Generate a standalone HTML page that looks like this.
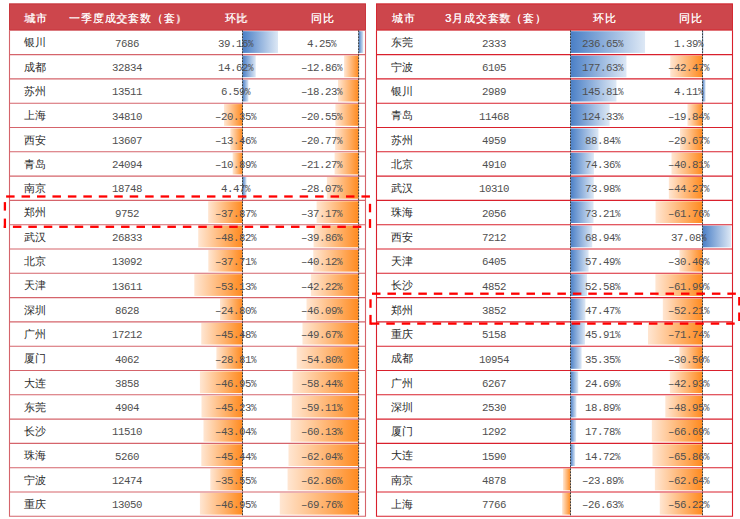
<!DOCTYPE html>
<html><head><meta charset="utf-8"><style>
html,body{margin:0;padding:0;background:#fff;width:740px;height:519px;overflow:hidden;position:relative}
body{font-family:"Liberation Sans",sans-serif}
svg{position:absolute;left:0;top:0}
.h{position:absolute;color:#fff;font-size:11.2px;letter-spacing:0.8px;text-indent:0.8px;line-height:16px;white-space:nowrap;text-shadow:0.3px 0 0 rgba(255,255,255,0.8)}
.c{width:160px;text-align:center}
.c2{width:100px;text-align:center}
.city{position:absolute;color:#2a2a2a;font-size:11px;line-height:16px;white-space:nowrap}
.num{position:absolute;height:16px;white-space:nowrap;color:#505050;font-family:"Liberation Mono",monospace;font-size:11.7px;line-height:16px}
.num span{display:inline-block;width:6px;overflow:visible}
.num span{transform:scaleX(0.92);transform-origin:0 0}
.num span.pc{transform:scaleX(0.78)}
</style></head><body>
<svg width="740" height="519">
<defs>
<linearGradient id="gb" x1="0" x2="1" y1="0" y2="0"><stop offset="0" stop-color="#4A7FC6"/><stop offset="1" stop-color="#DDE8F5"/></linearGradient>
<linearGradient id="go" x1="0" x2="1" y1="0" y2="0"><stop offset="0" stop-color="#FFE6D2"/><stop offset="1" stop-color="#FF8A1E"/></linearGradient>
</defs>
<rect x="9.05" y="3.5" width="356.9" height="26.95" fill="#CD464C"/>
<rect x="9.5" y="4.0" width="356.0" height="25.95" fill="none" stroke="#C8353C" stroke-width="0.9"/>
<rect x="242.50" y="31.20" width="35.52" height="21.70" fill="url(#gb)"/>
<rect x="358.60" y="31.20" width="4.80" height="21.70" fill="url(#gb)"/>
<rect x="242.50" y="55.50" width="13.26" height="21.70" fill="url(#gb)"/>
<rect x="344.07" y="55.50" width="14.53" height="21.70" fill="url(#go)"/>
<rect x="242.50" y="79.80" width="5.98" height="21.70" fill="url(#gb)"/>
<rect x="338.00" y="79.80" width="20.60" height="21.70" fill="url(#go)"/>
<rect x="224.04" y="104.10" width="18.46" height="21.70" fill="url(#go)"/>
<rect x="335.38" y="104.10" width="23.22" height="21.70" fill="url(#go)"/>
<rect x="230.29" y="128.40" width="12.21" height="21.70" fill="url(#go)"/>
<rect x="335.13" y="128.40" width="23.47" height="21.70" fill="url(#go)"/>
<rect x="232.62" y="152.70" width="9.88" height="21.70" fill="url(#go)"/>
<rect x="334.56" y="152.70" width="24.04" height="21.70" fill="url(#go)"/>
<rect x="242.50" y="177.00" width="4.05" height="21.70" fill="url(#gb)"/>
<rect x="326.88" y="177.00" width="31.72" height="21.70" fill="url(#go)"/>
<rect x="208.15" y="201.30" width="34.35" height="21.70" fill="url(#go)"/>
<rect x="316.60" y="201.30" width="42.00" height="21.70" fill="url(#go)"/>
<rect x="198.22" y="225.60" width="44.28" height="21.70" fill="url(#go)"/>
<rect x="313.56" y="225.60" width="45.04" height="21.70" fill="url(#go)"/>
<rect x="208.30" y="249.90" width="34.20" height="21.70" fill="url(#go)"/>
<rect x="313.26" y="249.90" width="45.34" height="21.70" fill="url(#go)"/>
<rect x="194.31" y="274.20" width="48.19" height="21.70" fill="url(#go)"/>
<rect x="310.89" y="274.20" width="47.71" height="21.70" fill="url(#go)"/>
<rect x="220.01" y="298.50" width="22.49" height="21.70" fill="url(#go)"/>
<rect x="306.52" y="298.50" width="52.08" height="21.70" fill="url(#go)"/>
<rect x="201.25" y="322.80" width="41.25" height="21.70" fill="url(#go)"/>
<rect x="302.47" y="322.80" width="56.13" height="21.70" fill="url(#go)"/>
<rect x="216.37" y="347.10" width="26.13" height="21.70" fill="url(#go)"/>
<rect x="296.68" y="347.10" width="61.92" height="21.70" fill="url(#go)"/>
<rect x="199.92" y="371.40" width="42.58" height="21.70" fill="url(#go)"/>
<rect x="292.56" y="371.40" width="66.04" height="21.70" fill="url(#go)"/>
<rect x="201.48" y="395.70" width="41.02" height="21.70" fill="url(#go)"/>
<rect x="291.81" y="395.70" width="66.79" height="21.70" fill="url(#go)"/>
<rect x="203.46" y="420.00" width="39.04" height="21.70" fill="url(#go)"/>
<rect x="290.65" y="420.00" width="67.95" height="21.70" fill="url(#go)"/>
<rect x="201.29" y="444.30" width="41.21" height="21.70" fill="url(#go)"/>
<rect x="288.49" y="444.30" width="70.11" height="21.70" fill="url(#go)"/>
<rect x="210.26" y="468.60" width="32.24" height="21.70" fill="url(#go)"/>
<rect x="287.57" y="468.60" width="71.03" height="21.70" fill="url(#go)"/>
<rect x="199.92" y="492.90" width="42.58" height="21.70" fill="url(#go)"/>
<rect x="279.77" y="492.90" width="78.83" height="21.70" fill="url(#go)"/>
<line x1="9.5" y1="54.60" x2="365.5" y2="54.60" stroke="#D5646B" stroke-width="1.1"/>
<line x1="9.5" y1="78.90" x2="365.5" y2="78.90" stroke="#D5646B" stroke-width="1.1"/>
<line x1="9.5" y1="103.20" x2="365.5" y2="103.20" stroke="#D5646B" stroke-width="1.1"/>
<line x1="9.5" y1="127.50" x2="365.5" y2="127.50" stroke="#D5646B" stroke-width="1.1"/>
<line x1="9.5" y1="151.80" x2="365.5" y2="151.80" stroke="#D5646B" stroke-width="1.1"/>
<line x1="9.5" y1="176.10" x2="365.5" y2="176.10" stroke="#D5646B" stroke-width="1.1"/>
<line x1="9.5" y1="200.40" x2="365.5" y2="200.40" stroke="#D5646B" stroke-width="1.1"/>
<line x1="9.5" y1="224.70" x2="365.5" y2="224.70" stroke="#D5646B" stroke-width="1.1"/>
<line x1="9.5" y1="249.00" x2="365.5" y2="249.00" stroke="#D5646B" stroke-width="1.1"/>
<line x1="9.5" y1="273.30" x2="365.5" y2="273.30" stroke="#D5646B" stroke-width="1.1"/>
<line x1="9.5" y1="297.60" x2="365.5" y2="297.60" stroke="#D5646B" stroke-width="1.1"/>
<line x1="9.5" y1="321.90" x2="365.5" y2="321.90" stroke="#D5646B" stroke-width="1.1"/>
<line x1="9.5" y1="346.20" x2="365.5" y2="346.20" stroke="#D5646B" stroke-width="1.1"/>
<line x1="9.5" y1="370.50" x2="365.5" y2="370.50" stroke="#D5646B" stroke-width="1.1"/>
<line x1="9.5" y1="394.80" x2="365.5" y2="394.80" stroke="#D5646B" stroke-width="1.1"/>
<line x1="9.5" y1="419.10" x2="365.5" y2="419.10" stroke="#D5646B" stroke-width="1.1"/>
<line x1="9.5" y1="443.40" x2="365.5" y2="443.40" stroke="#D5646B" stroke-width="1.1"/>
<line x1="9.5" y1="467.70" x2="365.5" y2="467.70" stroke="#D5646B" stroke-width="1.1"/>
<line x1="9.5" y1="492.00" x2="365.5" y2="492.00" stroke="#D5646B" stroke-width="1.1"/>
<polyline points="9.5,30.3 9.5,516.30 365.5,516.30 365.5,30.3" fill="none" stroke="#D5646B" stroke-width="1.1"/>
<line x1="242.50" y1="30.3" x2="242.50" y2="516.30" stroke="#333" stroke-width="0.95" stroke-dasharray="2 1"/>
<line x1="358.60" y1="30.3" x2="358.60" y2="516.30" stroke="#333" stroke-width="0.95" stroke-dasharray="2 1"/>
<rect x="376.05" y="3.5" width="356.9" height="26.95" fill="#CD464C"/>
<rect x="376.5" y="4.0" width="356.0" height="25.95" fill="none" stroke="#D6262F" stroke-width="0.9"/>
<rect x="570.50" y="31.20" width="74.54" height="21.70" fill="url(#gb)"/>
<rect x="702.50" y="31.20" width="1.07" height="21.70" fill="url(#gb)"/>
<rect x="570.50" y="55.50" width="55.95" height="21.70" fill="url(#gb)"/>
<rect x="670.22" y="55.50" width="32.28" height="21.70" fill="url(#go)"/>
<rect x="570.50" y="79.80" width="45.93" height="21.70" fill="url(#gb)"/>
<rect x="702.50" y="79.80" width="3.16" height="21.70" fill="url(#gb)"/>
<rect x="570.50" y="104.10" width="39.16" height="21.70" fill="url(#gb)"/>
<rect x="687.42" y="104.10" width="15.08" height="21.70" fill="url(#go)"/>
<rect x="570.50" y="128.40" width="27.98" height="21.70" fill="url(#gb)"/>
<rect x="679.95" y="128.40" width="22.55" height="21.70" fill="url(#go)"/>
<rect x="570.50" y="152.70" width="23.42" height="21.70" fill="url(#gb)"/>
<rect x="671.48" y="152.70" width="31.02" height="21.70" fill="url(#go)"/>
<rect x="570.50" y="177.00" width="23.30" height="21.70" fill="url(#gb)"/>
<rect x="668.85" y="177.00" width="33.65" height="21.70" fill="url(#go)"/>
<rect x="570.50" y="201.30" width="23.06" height="21.70" fill="url(#gb)"/>
<rect x="655.56" y="201.30" width="46.94" height="21.70" fill="url(#go)"/>
<rect x="570.50" y="225.60" width="21.72" height="21.70" fill="url(#gb)"/>
<rect x="702.50" y="225.60" width="28.55" height="21.70" fill="url(#gb)"/>
<rect x="570.50" y="249.90" width="18.11" height="21.70" fill="url(#gb)"/>
<rect x="679.40" y="249.90" width="23.10" height="21.70" fill="url(#go)"/>
<rect x="570.50" y="274.20" width="16.56" height="21.70" fill="url(#gb)"/>
<rect x="655.39" y="274.20" width="47.11" height="21.70" fill="url(#go)"/>
<rect x="570.50" y="298.50" width="14.95" height="21.70" fill="url(#gb)"/>
<rect x="662.82" y="298.50" width="39.68" height="21.70" fill="url(#go)"/>
<rect x="570.50" y="322.80" width="14.46" height="21.70" fill="url(#gb)"/>
<rect x="647.98" y="322.80" width="54.52" height="21.70" fill="url(#go)"/>
<rect x="570.50" y="347.10" width="11.14" height="21.70" fill="url(#gb)"/>
<rect x="679.32" y="347.10" width="23.18" height="21.70" fill="url(#go)"/>
<rect x="570.50" y="371.40" width="7.78" height="21.70" fill="url(#gb)"/>
<rect x="669.87" y="371.40" width="32.63" height="21.70" fill="url(#go)"/>
<rect x="570.50" y="395.70" width="5.95" height="21.70" fill="url(#gb)"/>
<rect x="665.30" y="395.70" width="37.20" height="21.70" fill="url(#go)"/>
<rect x="570.50" y="420.00" width="5.60" height="21.70" fill="url(#gb)"/>
<rect x="651.82" y="420.00" width="50.68" height="21.70" fill="url(#go)"/>
<rect x="570.50" y="444.30" width="4.64" height="21.70" fill="url(#gb)"/>
<rect x="652.45" y="444.30" width="50.05" height="21.70" fill="url(#go)"/>
<rect x="562.97" y="468.60" width="7.53" height="21.70" fill="url(#go)"/>
<rect x="654.89" y="468.60" width="47.61" height="21.70" fill="url(#go)"/>
<rect x="562.11" y="492.90" width="8.39" height="21.70" fill="url(#go)"/>
<rect x="659.77" y="492.90" width="42.73" height="21.70" fill="url(#go)"/>
<line x1="376.5" y1="54.60" x2="732.5" y2="54.60" stroke="#D9202C" stroke-width="1.1"/>
<line x1="376.5" y1="78.90" x2="732.5" y2="78.90" stroke="#D9202C" stroke-width="1.1"/>
<line x1="376.5" y1="103.20" x2="732.5" y2="103.20" stroke="#D9202C" stroke-width="1.1"/>
<line x1="376.5" y1="127.50" x2="732.5" y2="127.50" stroke="#D9202C" stroke-width="1.1"/>
<line x1="376.5" y1="151.80" x2="732.5" y2="151.80" stroke="#D9202C" stroke-width="1.1"/>
<line x1="376.5" y1="176.10" x2="732.5" y2="176.10" stroke="#D9202C" stroke-width="1.1"/>
<line x1="376.5" y1="200.40" x2="732.5" y2="200.40" stroke="#D9202C" stroke-width="1.1"/>
<line x1="376.5" y1="224.70" x2="732.5" y2="224.70" stroke="#D9202C" stroke-width="1.1"/>
<line x1="376.5" y1="249.00" x2="732.5" y2="249.00" stroke="#D9202C" stroke-width="1.1"/>
<line x1="376.5" y1="273.30" x2="732.5" y2="273.30" stroke="#D9202C" stroke-width="1.1"/>
<line x1="376.5" y1="297.60" x2="732.5" y2="297.60" stroke="#D9202C" stroke-width="1.1"/>
<line x1="376.5" y1="321.90" x2="732.5" y2="321.90" stroke="#D9202C" stroke-width="1.1"/>
<line x1="376.5" y1="346.20" x2="732.5" y2="346.20" stroke="#D9202C" stroke-width="1.1"/>
<line x1="376.5" y1="370.50" x2="732.5" y2="370.50" stroke="#D9202C" stroke-width="1.1"/>
<line x1="376.5" y1="394.80" x2="732.5" y2="394.80" stroke="#D9202C" stroke-width="1.1"/>
<line x1="376.5" y1="419.10" x2="732.5" y2="419.10" stroke="#D9202C" stroke-width="1.1"/>
<line x1="376.5" y1="443.40" x2="732.5" y2="443.40" stroke="#D9202C" stroke-width="1.1"/>
<line x1="376.5" y1="467.70" x2="732.5" y2="467.70" stroke="#D9202C" stroke-width="1.1"/>
<line x1="376.5" y1="492.00" x2="732.5" y2="492.00" stroke="#D9202C" stroke-width="1.1"/>
<polyline points="376.5,30.3 376.5,516.30 732.5,516.30 732.5,30.3" fill="none" stroke="#D9202C" stroke-width="1.1"/>
<line x1="570.50" y1="30.3" x2="570.50" y2="516.30" stroke="#333" stroke-width="0.95" stroke-dasharray="2 1"/>
<line x1="702.50" y1="30.3" x2="702.50" y2="516.30" stroke="#333" stroke-width="0.95" stroke-dasharray="2 1"/>
</svg>
<div class="h" style="left:23.5px;top:9.80px">城市</div>
<div class="h c" style="left:47.8px;top:9.80px">一季度成交套数（套）</div>
<div class="h c2" style="left:186.0px;top:9.80px">环比</div>
<div class="h c2" style="left:272.4px;top:9.80px">同比</div>
<div class="city" style="left:23.5px;top:34.35px">银川</div>
<div class="num" style="left:114.80px;top:35.65px;width:24px"><span>7</span><span>6</span><span>8</span><span>6</span></div>
<div class="num" style="left:218.00px;top:35.65px;width:36px"><span>3</span><span>9</span><span>.</span><span>1</span><span>6</span><span class="pc">%</span></div>
<div class="num" style="left:307.40px;top:35.65px;width:30px"><span>4</span><span>.</span><span>2</span><span>5</span><span class="pc">%</span></div>
<div class="city" style="left:23.5px;top:58.65px">成都</div>
<div class="num" style="left:111.80px;top:59.95px;width:30px"><span>3</span><span>2</span><span>8</span><span>3</span><span>4</span></div>
<div class="num" style="left:218.00px;top:59.95px;width:36px"><span>1</span><span>4</span><span>.</span><span>6</span><span>2</span><span class="pc">%</span></div>
<div class="num" style="left:301.40px;top:59.95px;width:42px"><span>–</span><span>1</span><span>2</span><span>.</span><span>8</span><span>6</span><span class="pc">%</span></div>
<div class="city" style="left:23.5px;top:82.95px">苏州</div>
<div class="num" style="left:111.80px;top:84.25px;width:30px"><span>1</span><span>3</span><span>5</span><span>1</span><span>1</span></div>
<div class="num" style="left:221.00px;top:84.25px;width:30px"><span>6</span><span>.</span><span>5</span><span>9</span><span class="pc">%</span></div>
<div class="num" style="left:301.40px;top:84.25px;width:42px"><span>–</span><span>1</span><span>8</span><span>.</span><span>2</span><span>3</span><span class="pc">%</span></div>
<div class="city" style="left:23.5px;top:107.25px">上海</div>
<div class="num" style="left:111.80px;top:108.55px;width:30px"><span>3</span><span>4</span><span>8</span><span>1</span><span>0</span></div>
<div class="num" style="left:215.00px;top:108.55px;width:42px"><span>–</span><span>2</span><span>0</span><span>.</span><span>3</span><span>5</span><span class="pc">%</span></div>
<div class="num" style="left:301.40px;top:108.55px;width:42px"><span>–</span><span>2</span><span>0</span><span>.</span><span>5</span><span>5</span><span class="pc">%</span></div>
<div class="city" style="left:23.5px;top:131.55px">西安</div>
<div class="num" style="left:111.80px;top:132.85px;width:30px"><span>1</span><span>3</span><span>6</span><span>0</span><span>7</span></div>
<div class="num" style="left:215.00px;top:132.85px;width:42px"><span>–</span><span>1</span><span>3</span><span>.</span><span>4</span><span>6</span><span class="pc">%</span></div>
<div class="num" style="left:301.40px;top:132.85px;width:42px"><span>–</span><span>2</span><span>0</span><span>.</span><span>7</span><span>7</span><span class="pc">%</span></div>
<div class="city" style="left:23.5px;top:155.85px">青岛</div>
<div class="num" style="left:111.80px;top:157.15px;width:30px"><span>2</span><span>4</span><span>0</span><span>9</span><span>4</span></div>
<div class="num" style="left:215.00px;top:157.15px;width:42px"><span>–</span><span>1</span><span>0</span><span>.</span><span>8</span><span>9</span><span class="pc">%</span></div>
<div class="num" style="left:301.40px;top:157.15px;width:42px"><span>–</span><span>2</span><span>1</span><span>.</span><span>2</span><span>7</span><span class="pc">%</span></div>
<div class="city" style="left:23.5px;top:180.15px">南京</div>
<div class="num" style="left:111.80px;top:181.45px;width:30px"><span>1</span><span>8</span><span>7</span><span>4</span><span>8</span></div>
<div class="num" style="left:221.00px;top:181.45px;width:30px"><span>4</span><span>.</span><span>4</span><span>7</span><span class="pc">%</span></div>
<div class="num" style="left:301.40px;top:181.45px;width:42px"><span>–</span><span>2</span><span>8</span><span>.</span><span>0</span><span>7</span><span class="pc">%</span></div>
<div class="city" style="left:23.5px;top:204.45px">郑州</div>
<div class="num" style="left:114.80px;top:205.75px;width:24px"><span>9</span><span>7</span><span>5</span><span>2</span></div>
<div class="num" style="left:215.00px;top:205.75px;width:42px"><span>–</span><span>3</span><span>7</span><span>.</span><span>8</span><span>7</span><span class="pc">%</span></div>
<div class="num" style="left:301.40px;top:205.75px;width:42px"><span>–</span><span>3</span><span>7</span><span>.</span><span>1</span><span>7</span><span class="pc">%</span></div>
<div class="city" style="left:23.5px;top:228.75px">武汉</div>
<div class="num" style="left:111.80px;top:230.05px;width:30px"><span>2</span><span>6</span><span>8</span><span>3</span><span>3</span></div>
<div class="num" style="left:215.00px;top:230.05px;width:42px"><span>–</span><span>4</span><span>8</span><span>.</span><span>8</span><span>2</span><span class="pc">%</span></div>
<div class="num" style="left:301.40px;top:230.05px;width:42px"><span>–</span><span>3</span><span>9</span><span>.</span><span>8</span><span>6</span><span class="pc">%</span></div>
<div class="city" style="left:23.5px;top:253.05px">北京</div>
<div class="num" style="left:111.80px;top:254.35px;width:30px"><span>1</span><span>3</span><span>0</span><span>9</span><span>2</span></div>
<div class="num" style="left:215.00px;top:254.35px;width:42px"><span>–</span><span>3</span><span>7</span><span>.</span><span>7</span><span>1</span><span class="pc">%</span></div>
<div class="num" style="left:301.40px;top:254.35px;width:42px"><span>–</span><span>4</span><span>0</span><span>.</span><span>1</span><span>2</span><span class="pc">%</span></div>
<div class="city" style="left:23.5px;top:277.35px">天津</div>
<div class="num" style="left:111.80px;top:278.65px;width:30px"><span>1</span><span>3</span><span>6</span><span>1</span><span>1</span></div>
<div class="num" style="left:215.00px;top:278.65px;width:42px"><span>–</span><span>5</span><span>3</span><span>.</span><span>1</span><span>3</span><span class="pc">%</span></div>
<div class="num" style="left:301.40px;top:278.65px;width:42px"><span>–</span><span>4</span><span>2</span><span>.</span><span>2</span><span>2</span><span class="pc">%</span></div>
<div class="city" style="left:23.5px;top:301.65px">深圳</div>
<div class="num" style="left:114.80px;top:302.95px;width:24px"><span>8</span><span>6</span><span>2</span><span>8</span></div>
<div class="num" style="left:215.00px;top:302.95px;width:42px"><span>–</span><span>2</span><span>4</span><span>.</span><span>8</span><span>0</span><span class="pc">%</span></div>
<div class="num" style="left:301.40px;top:302.95px;width:42px"><span>–</span><span>4</span><span>6</span><span>.</span><span>0</span><span>9</span><span class="pc">%</span></div>
<div class="city" style="left:23.5px;top:325.95px">广州</div>
<div class="num" style="left:111.80px;top:327.25px;width:30px"><span>1</span><span>7</span><span>2</span><span>1</span><span>2</span></div>
<div class="num" style="left:215.00px;top:327.25px;width:42px"><span>–</span><span>4</span><span>5</span><span>.</span><span>4</span><span>8</span><span class="pc">%</span></div>
<div class="num" style="left:301.40px;top:327.25px;width:42px"><span>–</span><span>4</span><span>9</span><span>.</span><span>6</span><span>7</span><span class="pc">%</span></div>
<div class="city" style="left:23.5px;top:350.25px">厦门</div>
<div class="num" style="left:114.80px;top:351.55px;width:24px"><span>4</span><span>0</span><span>6</span><span>2</span></div>
<div class="num" style="left:215.00px;top:351.55px;width:42px"><span>–</span><span>2</span><span>8</span><span>.</span><span>8</span><span>1</span><span class="pc">%</span></div>
<div class="num" style="left:301.40px;top:351.55px;width:42px"><span>–</span><span>5</span><span>4</span><span>.</span><span>8</span><span>0</span><span class="pc">%</span></div>
<div class="city" style="left:23.5px;top:374.55px">大连</div>
<div class="num" style="left:114.80px;top:375.85px;width:24px"><span>3</span><span>8</span><span>5</span><span>8</span></div>
<div class="num" style="left:215.00px;top:375.85px;width:42px"><span>–</span><span>4</span><span>6</span><span>.</span><span>9</span><span>5</span><span class="pc">%</span></div>
<div class="num" style="left:301.40px;top:375.85px;width:42px"><span>–</span><span>5</span><span>8</span><span>.</span><span>4</span><span>4</span><span class="pc">%</span></div>
<div class="city" style="left:23.5px;top:398.85px">东莞</div>
<div class="num" style="left:114.80px;top:400.15px;width:24px"><span>4</span><span>9</span><span>0</span><span>4</span></div>
<div class="num" style="left:215.00px;top:400.15px;width:42px"><span>–</span><span>4</span><span>5</span><span>.</span><span>2</span><span>3</span><span class="pc">%</span></div>
<div class="num" style="left:301.40px;top:400.15px;width:42px"><span>–</span><span>5</span><span>9</span><span>.</span><span>1</span><span>1</span><span class="pc">%</span></div>
<div class="city" style="left:23.5px;top:423.15px">长沙</div>
<div class="num" style="left:111.80px;top:424.45px;width:30px"><span>1</span><span>1</span><span>5</span><span>1</span><span>0</span></div>
<div class="num" style="left:215.00px;top:424.45px;width:42px"><span>–</span><span>4</span><span>3</span><span>.</span><span>0</span><span>4</span><span class="pc">%</span></div>
<div class="num" style="left:301.40px;top:424.45px;width:42px"><span>–</span><span>6</span><span>0</span><span>.</span><span>1</span><span>3</span><span class="pc">%</span></div>
<div class="city" style="left:23.5px;top:447.45px">珠海</div>
<div class="num" style="left:114.80px;top:448.75px;width:24px"><span>5</span><span>2</span><span>6</span><span>0</span></div>
<div class="num" style="left:215.00px;top:448.75px;width:42px"><span>–</span><span>4</span><span>5</span><span>.</span><span>4</span><span>4</span><span class="pc">%</span></div>
<div class="num" style="left:301.40px;top:448.75px;width:42px"><span>–</span><span>6</span><span>2</span><span>.</span><span>0</span><span>4</span><span class="pc">%</span></div>
<div class="city" style="left:23.5px;top:471.75px">宁波</div>
<div class="num" style="left:111.80px;top:473.05px;width:30px"><span>1</span><span>2</span><span>4</span><span>7</span><span>4</span></div>
<div class="num" style="left:215.00px;top:473.05px;width:42px"><span>–</span><span>3</span><span>5</span><span>.</span><span>5</span><span>5</span><span class="pc">%</span></div>
<div class="num" style="left:301.40px;top:473.05px;width:42px"><span>–</span><span>6</span><span>2</span><span>.</span><span>8</span><span>6</span><span class="pc">%</span></div>
<div class="city" style="left:23.5px;top:496.05px">重庆</div>
<div class="num" style="left:111.80px;top:497.35px;width:30px"><span>1</span><span>3</span><span>0</span><span>5</span><span>0</span></div>
<div class="num" style="left:215.00px;top:497.35px;width:42px"><span>–</span><span>4</span><span>6</span><span>.</span><span>9</span><span>5</span><span class="pc">%</span></div>
<div class="num" style="left:301.40px;top:497.35px;width:42px"><span>–</span><span>6</span><span>9</span><span>.</span><span>7</span><span>6</span><span class="pc">%</span></div>
<div class="h" style="left:391.0px;top:9.80px">城市</div>
<div class="h c" style="left:415.4px;top:9.80px">3月成交套数（套）</div>
<div class="h c2" style="left:554.1999999999999px;top:9.80px">环比</div>
<div class="h c2" style="left:640.1999999999999px;top:9.80px">同比</div>
<div class="city" style="left:391.0px;top:34.35px">东莞</div>
<div class="num" style="left:481.90px;top:35.65px;width:24px"><span>2</span><span>3</span><span>3</span><span>3</span></div>
<div class="num" style="left:581.90px;top:35.65px;width:42px"><span>2</span><span>3</span><span>6</span><span>.</span><span>6</span><span>5</span><span class="pc">%</span></div>
<div class="num" style="left:673.90px;top:35.65px;width:30px"><span>1</span><span>.</span><span>3</span><span>9</span><span class="pc">%</span></div>
<div class="city" style="left:391.0px;top:58.65px">宁波</div>
<div class="num" style="left:481.90px;top:59.95px;width:24px"><span>6</span><span>1</span><span>0</span><span>5</span></div>
<div class="num" style="left:581.90px;top:59.95px;width:42px"><span>1</span><span>7</span><span>7</span><span>.</span><span>6</span><span>3</span><span class="pc">%</span></div>
<div class="num" style="left:667.90px;top:59.95px;width:42px"><span>–</span><span>4</span><span>2</span><span>.</span><span>4</span><span>7</span><span class="pc">%</span></div>
<div class="city" style="left:391.0px;top:82.95px">银川</div>
<div class="num" style="left:481.90px;top:84.25px;width:24px"><span>2</span><span>9</span><span>8</span><span>9</span></div>
<div class="num" style="left:581.90px;top:84.25px;width:42px"><span>1</span><span>4</span><span>5</span><span>.</span><span>8</span><span>1</span><span class="pc">%</span></div>
<div class="num" style="left:673.90px;top:84.25px;width:30px"><span>4</span><span>.</span><span>1</span><span>1</span><span class="pc">%</span></div>
<div class="city" style="left:391.0px;top:107.25px">青岛</div>
<div class="num" style="left:478.90px;top:108.55px;width:30px"><span>1</span><span>1</span><span>4</span><span>6</span><span>8</span></div>
<div class="num" style="left:581.90px;top:108.55px;width:42px"><span>1</span><span>2</span><span>4</span><span>.</span><span>3</span><span>3</span><span class="pc">%</span></div>
<div class="num" style="left:667.90px;top:108.55px;width:42px"><span>–</span><span>1</span><span>9</span><span>.</span><span>8</span><span>4</span><span class="pc">%</span></div>
<div class="city" style="left:391.0px;top:131.55px">苏州</div>
<div class="num" style="left:481.90px;top:132.85px;width:24px"><span>4</span><span>9</span><span>5</span><span>9</span></div>
<div class="num" style="left:584.90px;top:132.85px;width:36px"><span>8</span><span>8</span><span>.</span><span>8</span><span>4</span><span class="pc">%</span></div>
<div class="num" style="left:667.90px;top:132.85px;width:42px"><span>–</span><span>2</span><span>9</span><span>.</span><span>6</span><span>7</span><span class="pc">%</span></div>
<div class="city" style="left:391.0px;top:155.85px">北京</div>
<div class="num" style="left:481.90px;top:157.15px;width:24px"><span>4</span><span>9</span><span>1</span><span>0</span></div>
<div class="num" style="left:584.90px;top:157.15px;width:36px"><span>7</span><span>4</span><span>.</span><span>3</span><span>6</span><span class="pc">%</span></div>
<div class="num" style="left:667.90px;top:157.15px;width:42px"><span>–</span><span>4</span><span>0</span><span>.</span><span>8</span><span>1</span><span class="pc">%</span></div>
<div class="city" style="left:391.0px;top:180.15px">武汉</div>
<div class="num" style="left:478.90px;top:181.45px;width:30px"><span>1</span><span>0</span><span>3</span><span>1</span><span>0</span></div>
<div class="num" style="left:584.90px;top:181.45px;width:36px"><span>7</span><span>3</span><span>.</span><span>9</span><span>8</span><span class="pc">%</span></div>
<div class="num" style="left:667.90px;top:181.45px;width:42px"><span>–</span><span>4</span><span>4</span><span>.</span><span>2</span><span>7</span><span class="pc">%</span></div>
<div class="city" style="left:391.0px;top:204.45px">珠海</div>
<div class="num" style="left:481.90px;top:205.75px;width:24px"><span>2</span><span>0</span><span>5</span><span>6</span></div>
<div class="num" style="left:584.90px;top:205.75px;width:36px"><span>7</span><span>3</span><span>.</span><span>2</span><span>1</span><span class="pc">%</span></div>
<div class="num" style="left:667.90px;top:205.75px;width:42px"><span>–</span><span>6</span><span>1</span><span>.</span><span>7</span><span>6</span><span class="pc">%</span></div>
<div class="city" style="left:391.0px;top:228.75px">西安</div>
<div class="num" style="left:481.90px;top:230.05px;width:24px"><span>7</span><span>2</span><span>1</span><span>2</span></div>
<div class="num" style="left:584.90px;top:230.05px;width:36px"><span>6</span><span>8</span><span>.</span><span>9</span><span>4</span><span class="pc">%</span></div>
<div class="num" style="left:670.90px;top:230.05px;width:36px"><span>3</span><span>7</span><span>.</span><span>0</span><span>8</span><span class="pc">%</span></div>
<div class="city" style="left:391.0px;top:253.05px">天津</div>
<div class="num" style="left:481.90px;top:254.35px;width:24px"><span>6</span><span>4</span><span>0</span><span>5</span></div>
<div class="num" style="left:584.90px;top:254.35px;width:36px"><span>5</span><span>7</span><span>.</span><span>4</span><span>9</span><span class="pc">%</span></div>
<div class="num" style="left:667.90px;top:254.35px;width:42px"><span>–</span><span>3</span><span>0</span><span>.</span><span>4</span><span>0</span><span class="pc">%</span></div>
<div class="city" style="left:391.0px;top:277.35px">长沙</div>
<div class="num" style="left:481.90px;top:278.65px;width:24px"><span>4</span><span>8</span><span>5</span><span>2</span></div>
<div class="num" style="left:584.90px;top:278.65px;width:36px"><span>5</span><span>2</span><span>.</span><span>5</span><span>8</span><span class="pc">%</span></div>
<div class="num" style="left:667.90px;top:278.65px;width:42px"><span>–</span><span>6</span><span>1</span><span>.</span><span>9</span><span>9</span><span class="pc">%</span></div>
<div class="city" style="left:391.0px;top:301.65px">郑州</div>
<div class="num" style="left:481.90px;top:302.95px;width:24px"><span>3</span><span>8</span><span>5</span><span>2</span></div>
<div class="num" style="left:584.90px;top:302.95px;width:36px"><span>4</span><span>7</span><span>.</span><span>4</span><span>7</span><span class="pc">%</span></div>
<div class="num" style="left:667.90px;top:302.95px;width:42px"><span>–</span><span>5</span><span>2</span><span>.</span><span>2</span><span>1</span><span class="pc">%</span></div>
<div class="city" style="left:391.0px;top:325.95px">重庆</div>
<div class="num" style="left:481.90px;top:327.25px;width:24px"><span>5</span><span>1</span><span>5</span><span>8</span></div>
<div class="num" style="left:584.90px;top:327.25px;width:36px"><span>4</span><span>5</span><span>.</span><span>9</span><span>1</span><span class="pc">%</span></div>
<div class="num" style="left:667.90px;top:327.25px;width:42px"><span>–</span><span>7</span><span>1</span><span>.</span><span>7</span><span>4</span><span class="pc">%</span></div>
<div class="city" style="left:391.0px;top:350.25px">成都</div>
<div class="num" style="left:478.90px;top:351.55px;width:30px"><span>1</span><span>0</span><span>9</span><span>5</span><span>4</span></div>
<div class="num" style="left:584.90px;top:351.55px;width:36px"><span>3</span><span>5</span><span>.</span><span>3</span><span>5</span><span class="pc">%</span></div>
<div class="num" style="left:667.90px;top:351.55px;width:42px"><span>–</span><span>3</span><span>0</span><span>.</span><span>5</span><span>0</span><span class="pc">%</span></div>
<div class="city" style="left:391.0px;top:374.55px">广州</div>
<div class="num" style="left:481.90px;top:375.85px;width:24px"><span>6</span><span>2</span><span>6</span><span>7</span></div>
<div class="num" style="left:584.90px;top:375.85px;width:36px"><span>2</span><span>4</span><span>.</span><span>6</span><span>9</span><span class="pc">%</span></div>
<div class="num" style="left:667.90px;top:375.85px;width:42px"><span>–</span><span>4</span><span>2</span><span>.</span><span>9</span><span>3</span><span class="pc">%</span></div>
<div class="city" style="left:391.0px;top:398.85px">深圳</div>
<div class="num" style="left:481.90px;top:400.15px;width:24px"><span>2</span><span>5</span><span>3</span><span>0</span></div>
<div class="num" style="left:584.90px;top:400.15px;width:36px"><span>1</span><span>8</span><span>.</span><span>8</span><span>9</span><span class="pc">%</span></div>
<div class="num" style="left:667.90px;top:400.15px;width:42px"><span>–</span><span>4</span><span>8</span><span>.</span><span>9</span><span>5</span><span class="pc">%</span></div>
<div class="city" style="left:391.0px;top:423.15px">厦门</div>
<div class="num" style="left:481.90px;top:424.45px;width:24px"><span>1</span><span>2</span><span>9</span><span>2</span></div>
<div class="num" style="left:584.90px;top:424.45px;width:36px"><span>1</span><span>7</span><span>.</span><span>7</span><span>8</span><span class="pc">%</span></div>
<div class="num" style="left:667.90px;top:424.45px;width:42px"><span>–</span><span>6</span><span>6</span><span>.</span><span>6</span><span>9</span><span class="pc">%</span></div>
<div class="city" style="left:391.0px;top:447.45px">大连</div>
<div class="num" style="left:481.90px;top:448.75px;width:24px"><span>1</span><span>5</span><span>9</span><span>0</span></div>
<div class="num" style="left:584.90px;top:448.75px;width:36px"><span>1</span><span>4</span><span>.</span><span>7</span><span>2</span><span class="pc">%</span></div>
<div class="num" style="left:667.90px;top:448.75px;width:42px"><span>–</span><span>6</span><span>5</span><span>.</span><span>8</span><span>6</span><span class="pc">%</span></div>
<div class="city" style="left:391.0px;top:471.75px">南京</div>
<div class="num" style="left:481.90px;top:473.05px;width:24px"><span>4</span><span>8</span><span>7</span><span>8</span></div>
<div class="num" style="left:581.90px;top:473.05px;width:42px"><span>–</span><span>2</span><span>3</span><span>.</span><span>8</span><span>9</span><span class="pc">%</span></div>
<div class="num" style="left:667.90px;top:473.05px;width:42px"><span>–</span><span>6</span><span>2</span><span>.</span><span>6</span><span>4</span><span class="pc">%</span></div>
<div class="city" style="left:391.0px;top:496.05px">上海</div>
<div class="num" style="left:481.90px;top:497.35px;width:24px"><span>7</span><span>7</span><span>6</span><span>6</span></div>
<div class="num" style="left:581.90px;top:497.35px;width:42px"><span>–</span><span>2</span><span>6</span><span>.</span><span>6</span><span>3</span><span class="pc">%</span></div>
<div class="num" style="left:667.90px;top:497.35px;width:42px"><span>–</span><span>5</span><span>6</span><span>.</span><span>2</span><span>2</span><span class="pc">%</span></div>
<svg width="740" height="519">
<g stroke="#FF0000" stroke-width="2.3" fill="none">
<line x1="6.10" y1="196.5" x2="14.60" y2="196.5"/>
<line x1="21.55" y1="196.5" x2="30.05" y2="196.5"/>
<line x1="37.00" y1="196.5" x2="45.50" y2="196.5"/>
<line x1="52.45" y1="196.5" x2="60.95" y2="196.5"/>
<line x1="67.90" y1="196.5" x2="76.40" y2="196.5"/>
<line x1="83.35" y1="196.5" x2="91.85" y2="196.5"/>
<line x1="98.80" y1="196.5" x2="107.30" y2="196.5"/>
<line x1="114.25" y1="196.5" x2="122.75" y2="196.5"/>
<line x1="129.70" y1="196.5" x2="138.20" y2="196.5"/>
<line x1="145.15" y1="196.5" x2="153.65" y2="196.5"/>
<line x1="160.60" y1="196.5" x2="169.10" y2="196.5"/>
<line x1="176.05" y1="196.5" x2="184.55" y2="196.5"/>
<line x1="191.50" y1="196.5" x2="200.00" y2="196.5"/>
<line x1="206.95" y1="196.5" x2="215.45" y2="196.5"/>
<line x1="222.40" y1="196.5" x2="230.90" y2="196.5"/>
<line x1="237.85" y1="196.5" x2="246.35" y2="196.5"/>
<line x1="253.30" y1="196.5" x2="261.80" y2="196.5"/>
<line x1="268.75" y1="196.5" x2="277.25" y2="196.5"/>
<line x1="284.20" y1="196.5" x2="292.70" y2="196.5"/>
<line x1="299.65" y1="196.5" x2="308.15" y2="196.5"/>
<line x1="315.10" y1="196.5" x2="323.60" y2="196.5"/>
<line x1="330.55" y1="196.5" x2="339.05" y2="196.5"/>
<line x1="346.00" y1="196.5" x2="354.50" y2="196.5"/>
<line x1="361.45" y1="196.5" x2="369.95" y2="196.5"/>
<line x1="370.0" y1="203.80" x2="370.0" y2="212.30"/>
<line x1="370.0" y1="219.10" x2="370.0" y2="227.95"/>
<line x1="352.80" y1="226.8" x2="361.30" y2="226.8"/>
<line x1="337.35" y1="226.8" x2="345.85" y2="226.8"/>
<line x1="321.90" y1="226.8" x2="330.40" y2="226.8"/>
<line x1="306.45" y1="226.8" x2="314.95" y2="226.8"/>
<line x1="291.00" y1="226.8" x2="299.50" y2="226.8"/>
<line x1="275.55" y1="226.8" x2="284.05" y2="226.8"/>
<line x1="260.10" y1="226.8" x2="268.60" y2="226.8"/>
<line x1="244.65" y1="226.8" x2="253.15" y2="226.8"/>
<line x1="229.20" y1="226.8" x2="237.70" y2="226.8"/>
<line x1="213.75" y1="226.8" x2="222.25" y2="226.8"/>
<line x1="198.30" y1="226.8" x2="206.80" y2="226.8"/>
<line x1="182.85" y1="226.8" x2="191.35" y2="226.8"/>
<line x1="167.40" y1="226.8" x2="175.90" y2="226.8"/>
<line x1="151.95" y1="226.8" x2="160.45" y2="226.8"/>
<line x1="136.50" y1="226.8" x2="145.00" y2="226.8"/>
<line x1="121.05" y1="226.8" x2="129.55" y2="226.8"/>
<line x1="105.60" y1="226.8" x2="114.10" y2="226.8"/>
<line x1="90.15" y1="226.8" x2="98.65" y2="226.8"/>
<line x1="74.70" y1="226.8" x2="83.20" y2="226.8"/>
<line x1="59.25" y1="226.8" x2="67.75" y2="226.8"/>
<line x1="43.80" y1="226.8" x2="52.30" y2="226.8"/>
<line x1="28.35" y1="226.8" x2="36.85" y2="226.8"/>
<line x1="12.90" y1="226.8" x2="21.40" y2="226.8"/>
<line x1="3.75" y1="226.8" x2="5.95" y2="226.8"/>
<line x1="4.9" y1="202.10" x2="4.9" y2="210.60"/>
<line x1="4.9" y1="218.60" x2="4.9" y2="227.95"/>
<line x1="372.00" y1="293.7" x2="380.50" y2="293.7"/>
<line x1="387.45" y1="293.7" x2="395.95" y2="293.7"/>
<line x1="402.90" y1="293.7" x2="411.40" y2="293.7"/>
<line x1="418.35" y1="293.7" x2="426.85" y2="293.7"/>
<line x1="433.80" y1="293.7" x2="442.30" y2="293.7"/>
<line x1="449.25" y1="293.7" x2="457.75" y2="293.7"/>
<line x1="464.70" y1="293.7" x2="473.20" y2="293.7"/>
<line x1="480.15" y1="293.7" x2="488.65" y2="293.7"/>
<line x1="495.60" y1="293.7" x2="504.10" y2="293.7"/>
<line x1="511.05" y1="293.7" x2="519.55" y2="293.7"/>
<line x1="526.50" y1="293.7" x2="535.00" y2="293.7"/>
<line x1="541.95" y1="293.7" x2="550.45" y2="293.7"/>
<line x1="557.40" y1="293.7" x2="565.90" y2="293.7"/>
<line x1="572.85" y1="293.7" x2="581.35" y2="293.7"/>
<line x1="588.30" y1="293.7" x2="596.80" y2="293.7"/>
<line x1="603.75" y1="293.7" x2="612.25" y2="293.7"/>
<line x1="619.20" y1="293.7" x2="627.70" y2="293.7"/>
<line x1="634.65" y1="293.7" x2="643.15" y2="293.7"/>
<line x1="650.10" y1="293.7" x2="658.60" y2="293.7"/>
<line x1="665.55" y1="293.7" x2="674.05" y2="293.7"/>
<line x1="681.00" y1="293.7" x2="689.50" y2="293.7"/>
<line x1="696.45" y1="293.7" x2="704.95" y2="293.7"/>
<line x1="711.90" y1="293.7" x2="720.40" y2="293.7"/>
<line x1="727.35" y1="293.7" x2="735.85" y2="293.7"/>
<line x1="739.3" y1="297.10" x2="739.3" y2="305.60"/>
<line x1="739.3" y1="312.60" x2="739.3" y2="321.10"/>
<line x1="726.20" y1="323.6" x2="734.70" y2="323.6"/>
<line x1="710.75" y1="323.6" x2="719.25" y2="323.6"/>
<line x1="695.30" y1="323.6" x2="703.80" y2="323.6"/>
<line x1="679.85" y1="323.6" x2="688.35" y2="323.6"/>
<line x1="664.40" y1="323.6" x2="672.90" y2="323.6"/>
<line x1="648.95" y1="323.6" x2="657.45" y2="323.6"/>
<line x1="633.50" y1="323.6" x2="642.00" y2="323.6"/>
<line x1="618.05" y1="323.6" x2="626.55" y2="323.6"/>
<line x1="602.60" y1="323.6" x2="611.10" y2="323.6"/>
<line x1="587.15" y1="323.6" x2="595.65" y2="323.6"/>
<line x1="571.70" y1="323.6" x2="580.20" y2="323.6"/>
<line x1="556.25" y1="323.6" x2="564.75" y2="323.6"/>
<line x1="540.80" y1="323.6" x2="549.30" y2="323.6"/>
<line x1="525.35" y1="323.6" x2="533.85" y2="323.6"/>
<line x1="509.90" y1="323.6" x2="518.40" y2="323.6"/>
<line x1="494.45" y1="323.6" x2="502.95" y2="323.6"/>
<line x1="479.00" y1="323.6" x2="487.50" y2="323.6"/>
<line x1="463.55" y1="323.6" x2="472.05" y2="323.6"/>
<line x1="448.10" y1="323.6" x2="456.60" y2="323.6"/>
<line x1="432.65" y1="323.6" x2="441.15" y2="323.6"/>
<line x1="417.20" y1="323.6" x2="425.70" y2="323.6"/>
<line x1="401.75" y1="323.6" x2="410.25" y2="323.6"/>
<line x1="386.30" y1="323.6" x2="394.80" y2="323.6"/>
<line x1="370.85" y1="323.6" x2="379.35" y2="323.6"/>
<line x1="370.5" y1="299.30" x2="370.5" y2="307.80"/>
<line x1="370.5" y1="314.90" x2="370.5" y2="324.75"/>
</g>
</svg>
</body></html>
